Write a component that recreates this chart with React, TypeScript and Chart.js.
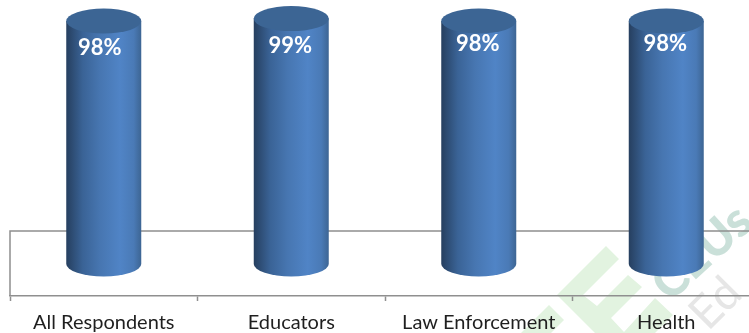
import React, { useEffect, useRef } from "react";
import { Chart, registerables } from "chart.js";

Chart.register(...registerables);

const categories = ["All Respondents", "Educators", "Law Enforcement", "Health"];
const percentValues = [98, 99, 98, 98];
const labelShiftX = [-4, -1, -1, -1];
const labelShiftY = [27, 27, 23, 23];

const polygon = (ctx: any, pts: number[][]) => {
  ctx.beginPath();
  pts.forEach(([x, y], i) => (i ? ctx.lineTo(x, y) : ctx.moveTo(x, y)));
  ctx.closePath();
  ctx.fill();
};

const cylinderPlugin = {
  id: "cylinders",
  beforeDraw(chart: any) {
    const { ctx } = chart;
    ctx.save();
    ctx.fillStyle = "#e2f3e0";
    polygon(ctx, [[557, 295], [606, 246], [619, 259], [583, 295], [597, 306], [628, 275], [642, 287], [611, 318], [624, 332], [655, 298], [673, 315], [655, 333], [595, 333]]);
    polygon(ctx, [[549, 305], [564, 320], [551, 333], [521, 333]]);
    ctx.save();
    ctx.translate(670, 303);
    ctx.rotate(-0.74);
    ctx.fillStyle = "#cae0d9";
    ctx.font = "900 48px Lato";
    ctx.fillText("CEUs", 0, 0);
    ctx.restore();
    ctx.save();
    ctx.translate(708, 332);
    ctx.rotate(-Math.PI / 4);
    ctx.fillStyle = "#e6e6e6";
    ctx.font = "46px Lato";
    ctx.fillText("Ed", 0, 0);
    ctx.restore();
    ctx.restore();
  },
  beforeDatasetsDraw(chart: any) {
    const { ctx, chartArea, scales } = chart;
    const floorY = scales.y.getPixelForValue(13.3);
    ctx.save();
    ctx.strokeStyle = "#8f8f8f";
    ctx.lineWidth = 1.5;
    ctx.beginPath();
    ctx.moveTo(chartArea.left, chartArea.bottom);
    ctx.lineTo(chartArea.left, floorY);
    ctx.lineTo(chartArea.right, floorY);
    ctx.stroke();
    ctx.restore();
  },
  afterDatasetsDraw(chart: any) {
    const { ctx } = chart;
    const meta = chart.getDatasetMeta(0);
    meta.data.forEach((bar: any, i: number) => {
      const halfW = bar.width / 2;
      const left = bar.x - halfW;
      const ry = 12.5;
      const g = ctx.createLinearGradient(left, 0, left + bar.width, 0);
      g.addColorStop(0, "#263f5f");
      g.addColorStop(0.22, "#3a6396");
      g.addColorStop(0.45, "#4776b1");
      g.addColorStop(0.72, "#5084c6");
      g.addColorStop(0.9, "#4a7ab6");
      g.addColorStop(1, "#3d6593");
      ctx.save();
      ctx.fillStyle = g;
      ctx.beginPath();
      ctx.moveTo(left, bar.y);
      ctx.lineTo(left, bar.base);
      ctx.ellipse(bar.x, bar.base, halfW, ry, 0, Math.PI, 0, true);
      ctx.lineTo(left + bar.width, bar.y);
      ctx.closePath();
      ctx.fill();
      ctx.fillStyle = "#3c6594";
      ctx.beginPath();
      ctx.ellipse(bar.x, bar.y, halfW, ry, 0, 0, Math.PI * 2);
      ctx.fill();
      ctx.fillStyle = "#ffffff";
      ctx.font = "bold 22px Lato";
      ctx.textAlign = "center";
      ctx.textBaseline = "middle";
      ctx.fillText(`${percentValues[i]}%`, bar.x + labelShiftX[i], bar.y + labelShiftY[i]);
      ctx.restore();
    });
  },
};

export default function App() {
  const ref = useRef<HTMLCanvasElement>(null);
  useEffect(() => {
    const chart = new Chart(ref.current!, {
      type: "bar",
      data: {
        labels: categories,
        datasets: [{ data: percentValues, backgroundColor: "rgba(0,0,0,0)", barPercentage: 0.4, categoryPercentage: 1 }],
      },
      options: {
        animation: false,
        responsive: false,
        layout: { padding: { left: 10, right: 0, top: 0, bottom: 0 } },
        plugins: { legend: { display: false }, tooltip: { enabled: false } },
        scales: {
          x: {
            afterFit: (s: any) => { s.height = 37; },
            grid: { display: true, drawOnChartArea: false, drawTicks: true, tickLength: 5, tickColor: "#8f8f8f", tickWidth: 1.5 },
            border: { color: "#8f8f8f", width: 1.5 },
            ticks: { color: "#1f1f1f", font: { family: "Lato", size: 20 }, padding: 10, maxRotation: 0 },
          },
          y: { display: false, min: -12.9, max: 106.5 },
        },
      },
      plugins: [cylinderPlugin],
    });
    return () => chart.destroy();
  }, []);
  return (
    <div style={{ position: "fixed", left: 0, top: 0, width: 749, height: 333, overflow: "hidden" }}>
      <canvas ref={ref} width={760} height={333} style={{ display: "block" }} />
    </div>
  );
}
